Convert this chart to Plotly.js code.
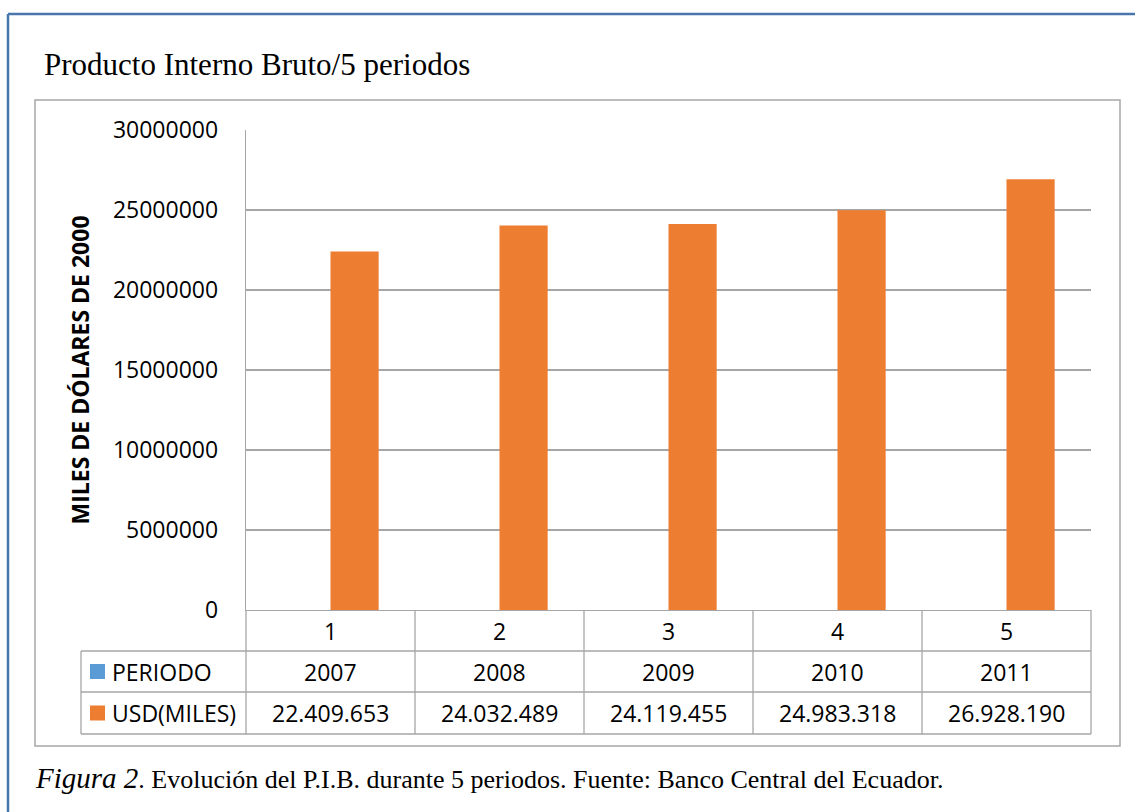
<!DOCTYPE html>
<html><head><meta charset="utf-8">
<script src="https://cdn.plot.ly/plotly-3.0.1.min.js"></script>
<style>html,body{margin:0;padding:0;background:#fff;} #chart{width:1135px;height:812px;}</style>
</head><body><div id="chart"></div>
<script>
// ---- data ----
const categories = ['1', '2', '3', '4', '5'];
const periods = [2007, 2008, 2009, 2010, 2011];
const usdMiles = [22409653, 24032489, 24119455, 24983318, 26928190];
const seriesNames = ['PERIODO', 'USD(MILES)'];
const seriesColors = ['#5b9bd5', '#ed7d31'];
const yTickVals = [0, 5000000, 10000000, 15000000, 20000000, 25000000, 30000000];
const titleText = 'Producto Interno Bruto/5 periodos';
const yTitleText = 'MILES DE DÓLARES DE 2000';
const captionLead = 'Figura 2';
const captionRest = '. Evolución del P.I.B. durante 5 periodos. Fuente: Banco Central del Ecuador.';

// ---- layout helpers ----
const W = 1135, H = 812;
const M = {l: 246, r: 44, t: 130, b: 202};
const PW = W - M.l - M.r, PH = H - M.t - M.b;
const px = x => (x - M.l) / PW;
const py = y => (H - M.b - y) / PH;
const GRID = '#a6a6a6';
const FONT = 'Open Sans, Noto Sans, sans-serif';
const SERIF = 'Liberation Serif, Times New Roman, serif';

function fmtDots(v) { return String(v).replace(/\B(?=(\d{3})+(?!\d))/g, '.'); }

const rowEdges = [610, 651, 692, 734];
const rowMid = i => (rowEdges[i] + rowEdges[i + 1]) / 2;

const traces = [
  {type: 'bar', name: seriesNames[0], x: categories, y: periods,
   marker: {color: seriesColors[0]}, hoverinfo: 'none'},
  {type: 'bar', name: seriesNames[1], x: categories, y: usdMiles,
   marker: {color: seriesColors[1]}, hoverinfo: 'none'}
];

const shapes = [];
const line = (x0, y0, x1, y1, color, w) => shapes.push({type: 'line', xref: 'paper', yref: 'paper',
  x0: x0, y0: y0, x1: x1, y1: y1, line: {color: color, width: w}});

// outer frame (blue) and chart area box (gray)
line(px(8), py(14), px(1140), py(14), '#4a76ae', 2.5);
line(px(8), py(14), px(8), py(820), '#4a76ae', 2.5);
shapes.push({type: 'rect', xref: 'paper', yref: 'paper', x0: px(35), x1: px(1120), y0: py(100), y1: py(746),
  line: {color: GRID, width: 1.5}, fillcolor: 'rgba(0,0,0,0)'});

// data table grid
for (let r = 1; r < rowEdges.length; r++) line(px(81), py(rowEdges[r]), 1, py(rowEdges[r]), GRID, 1.3);
line(px(81), py(rowEdges[1]), px(81), py(rowEdges[3]), GRID, 1.3);
for (let k = 0; k <= categories.length; k++) {
  line(k / categories.length, 0, k / categories.length, py(rowEdges[3]), GRID, 1.3);
}

// legend keys in table
seriesColors.forEach((c, i) => {
  const cy = rowMid(i + 1);
  shapes.push({type: 'rect', xref: 'paper', yref: 'paper', x0: px(90), x1: px(105),
    y0: py(cy + 7.5), y1: py(cy - 7.5), line: {width: 0}, fillcolor: c});
});

const annotations = [];
const tableFont = {family: FONT, size: 23, color: '#000'};
categories.forEach((c, i) => {
  // category axes take numeric positions as category indices
  annotations.push({xref: 'x', yref: 'paper', x: i, y: py(rowMid(0)), text: c, showarrow: false,
    font: tableFont, xanchor: 'center', yanchor: 'middle'});
  annotations.push({xref: 'x', yref: 'paper', x: i, y: py(rowMid(1)), text: String(periods[i]), showarrow: false,
    font: tableFont, xanchor: 'center', yanchor: 'middle'});
  annotations.push({xref: 'x', yref: 'paper', x: i, y: py(rowMid(2)), text: fmtDots(usdMiles[i]), showarrow: false,
    font: tableFont, xanchor: 'center', yanchor: 'middle'});
});
seriesNames.forEach((n, i) => {
  annotations.push({xref: 'paper', yref: 'paper', x: px(110), y: py(rowMid(i + 1)), text: n, showarrow: false,
    font: tableFont, xanchor: 'left', yanchor: 'middle'});
});
annotations.push({xref: 'paper', yref: 'paper', x: px(33), y: py(778), xanchor: 'left', yanchor: 'middle',
  showarrow: false, font: {family: SERIF, size: 26, color: '#000'},
  text: '<i><span style="font-size:29px">' + captionLead + '</span></i>' + captionRest});

const layout = {
  width: W, height: H,
  margin: M,
  paper_bgcolor: '#fff', plot_bgcolor: '#fff',
  font: {family: FONT, color: '#000'},
  showlegend: false,
  barmode: 'group', bargap: 0.43, bargroupgap: 0,
  title: {text: titleText, font: {family: SERIF, size: 31, color: '#000'},
    xref: 'container', yref: 'container', x: 44 / W, xanchor: 'left', y: 1 - 64 / H, yanchor: 'middle'},
  xaxis: {type: 'category', categoryarray: categories, range: [-0.5, categories.length - 0.5],
    showticklabels: false, showgrid: false, ticks: '',
    showline: true, linecolor: GRID, linewidth: 1.3, zeroline: false, fixedrange: true},
  yaxis: {range: [0, 30000000], tickvals: yTickVals, tickformat: 'd', ticks: '',
    ticklabelstandoff: 22, tickfont: {family: FONT, size: 23, color: '#000'},
    showgrid: true, gridcolor: GRID, gridwidth: 1.3, showline: true, linecolor: GRID, linewidth: 1.3,
    zeroline: false, fixedrange: true,
    title: {text: yTitleText, standoff: 16, font: {family: FONT, size: 23, color: '#000', weight: 'bold'}}},
  shapes: shapes,
  annotations: annotations
};

Plotly.newPlot('chart', traces, layout, {displayModeBar: false, staticPlot: true});
</script>
</body></html>
